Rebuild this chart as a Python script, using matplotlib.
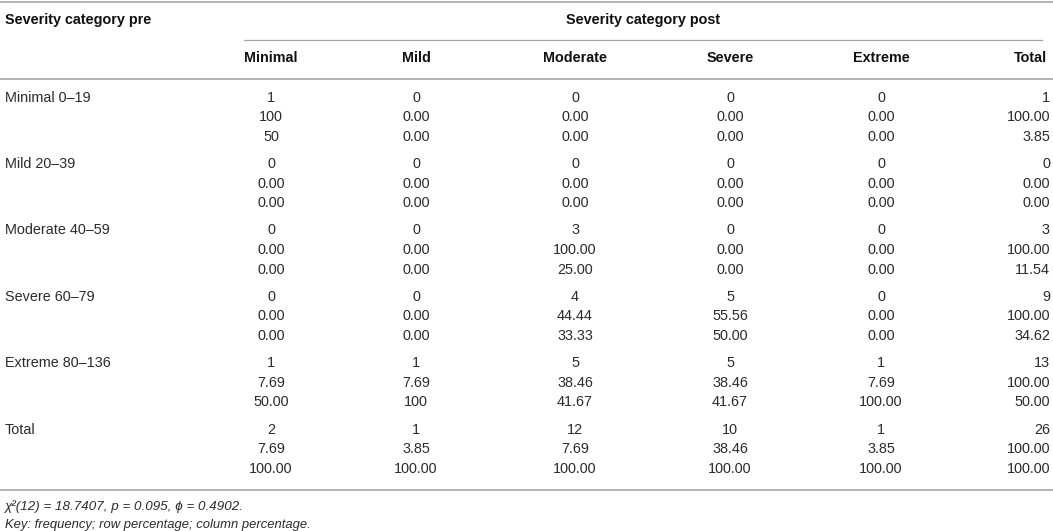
import matplotlib.pyplot as plt

plt.rcParams['font.family'] = ['Liberation Sans', 'DejaVu Sans']

# dados da tabela
pre_labels = ['Minimal 0–19', 'Mild 20–39', 'Moderate 40–59', 'Severe 60–79',
              'Extreme 80–136', 'Total']
post_labels = ['Minimal', 'Mild', 'Moderate', 'Severe', 'Extreme', 'Total']

frequencia = [
    ['1', '0', '0', '0', '0', '1'],
    ['0', '0', '0', '0', '0', '0'],
    ['0', '0', '3', '0', '0', '3'],
    ['0', '0', '4', '5', '0', '9'],
    ['1', '1', '5', '5', '1', '13'],
    ['2', '1', '12', '10', '1', '26'],
]
perc_linha = [
    ['100', '0.00', '0.00', '0.00', '0.00', '100.00'],
    ['0.00', '0.00', '0.00', '0.00', '0.00', '0.00'],
    ['0.00', '0.00', '100.00', '0.00', '0.00', '100.00'],
    ['0.00', '0.00', '44.44', '55.56', '0.00', '100.00'],
    ['7.69', '7.69', '38.46', '38.46', '7.69', '100.00'],
    ['7.69', '3.85', '7.69', '38.46', '3.85', '100.00'],
]
perc_coluna = [
    ['50', '0.00', '0.00', '0.00', '0.00', '3.85'],
    ['0.00', '0.00', '0.00', '0.00', '0.00', '0.00'],
    ['0.00', '0.00', '25.00', '0.00', '0.00', '11.54'],
    ['0.00', '0.00', '33.33', '50.00', '0.00', '34.62'],
    ['50.00', '100', '41.67', '41.67', '100.00', '50.00'],
    ['100.00', '100.00', '100.00', '100.00', '100.00', '100.00'],
]

nota_1 = 'χ²(12) = 18.7407, p = 0.095, ϕ = 0.4902.'
nota_2 = 'Key: frequency; row percentage; column percentage.'

# layout (pixels)
W, H = 1053, 531
col_x = [271, 416, 575, 730, 881, 1050]
linha_cor = '#a6a6a6'
texto_cor = '#2b2b2b'
fs = 10.4

fig = plt.figure(figsize=(W / 100, H / 100), dpi=100)
ax = fig.add_axes([0, 0, 1, 1])
ax.set_xlim(0, W)
ax.set_ylim(H, 0)
ax.axis('off')

# linhas horizontais
ax.plot([0, W], [1.5, 1.5], color=linha_cor, lw=1.2)
ax.plot([244, 1042], [39.5, 39.5], color=linha_cor, lw=0.9)
ax.plot([0, W], [78.5, 78.5], color=linha_cor, lw=1.2)
ax.plot([0, W], [489.5, 489.5], color=linha_cor, lw=1.2)

# cabeçalhos
ax.text(5, 20, 'Severity category pre', fontsize=fs, fontweight='bold',
        color='#111111', va='center', ha='left')
ax.text(643, 20, 'Severity category post', fontsize=fs, fontweight='bold',
        color='#111111', va='center', ha='center')
for j, lab in enumerate(post_labels):
    ha = 'right' if j == len(post_labels) - 1 else 'center'
    ax.text(col_x[j] - (3 if ha == 'right' else 0), 58, lab, fontsize=fs,
            fontweight='bold', color='#111111', va='center', ha=ha)

# corpo
y0, passo_grupo, passo_linha = 97.5, 66.4, 19.6
for i, lab in enumerate(pre_labels):
    yg = y0 + i * passo_grupo
    ax.text(5, yg, lab, fontsize=fs, color=texto_cor, va='center', ha='left')
    for k, bloco in enumerate([frequencia, perc_linha, perc_coluna]):
        for j in range(len(post_labels)):
            ha = 'right' if j == len(post_labels) - 1 else 'center'
            ax.text(col_x[j], yg + k * passo_linha, bloco[i][j], fontsize=fs,
                    color=texto_cor, va='center', ha=ha)

# notas
ax.text(5, 507, nota_1, fontsize=9.6, style='italic', color=texto_cor,
        va='center', ha='left')
ax.text(5, 525, nota_2, fontsize=9.4, style='italic', color=texto_cor,
        va='center', ha='left')

fig.savefig('out.png', dpi=100)
